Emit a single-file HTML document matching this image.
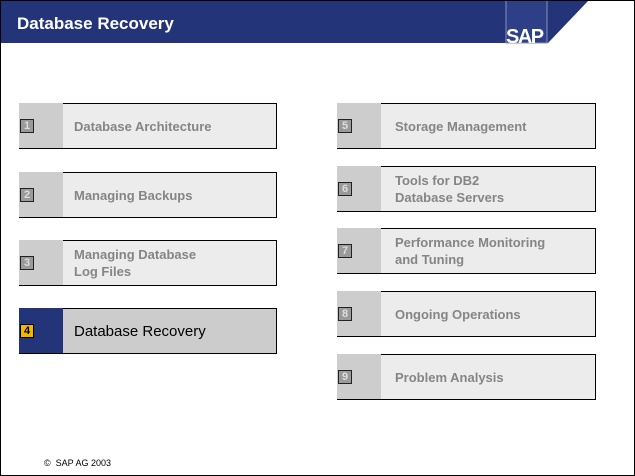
<!DOCTYPE html>
<html><head><style>
*{margin:0;padding:0;box-sizing:border-box}
body{width:635px;height:476px;position:relative;background:#fff;font-family:"Liberation Sans",Arial,sans-serif;overflow:hidden}
.frame{position:absolute;left:0;top:0;width:635px;height:476px;border:1px solid #000}
.box{position:absolute;height:46px;background:#ececec;border-top:1px solid #000;border-right:1px solid #000;border-bottom:1px solid #000}
.tab{position:absolute;left:0;top:-1px;bottom:-1px;width:44px;background:#cdcdcd;border-bottom:1px solid #000}
.num{position:absolute;left:1px;top:50%;margin-top:-7px;width:14px;height:14px;background:#9a9a9a;border:1px solid #222;color:#ddd;font-size:11px;font-weight:bold;text-align:center;line-height:12px}
.t{position:absolute;left:55px;top:0;bottom:0;display:flex;align-items:center;color:#858585;font-size:13px;font-weight:bold;line-height:17px}
</style></head><body>
<svg style="position:absolute;left:0;top:0" width="635" height="50">
<polygon points="0,0 589,0 548,43 0,43" fill="#233479"/>
<rect x="506" y="0" width="41" height="43" fill="#2d3f86" stroke="#8891b8" stroke-width="1"/>
<text x="17" y="29" fill="#fff" font-family="Liberation Sans" font-weight="bold" font-size="17">Database Recovery</text>
<text x="506" y="43" fill="#fff" font-family="Liberation Sans" font-weight="bold" font-size="20" letter-spacing="-1.5">SAP</text>
</svg>
<div class="box" style="left:19px;top:103px;width:258px"><div class="tab"></div><div class="num">1</div><div class="t">Database Architecture</div></div>
<div class="box" style="left:19px;top:172px;width:258px"><div class="tab"></div><div class="num">2</div><div class="t">Managing Backups</div></div>
<div class="box" style="left:19px;top:240px;width:258px"><div class="tab"></div><div class="num">3</div><div class="t">Managing Database<br>Log Files</div></div>
<div class="box" style="left:19px;top:308px;width:258px;background:#cccccc"><div class="tab" style="background:#233479"></div><div class="num" style="background:#f2b800;color:#000;border-color:#000">4</div><div class="t" style="color:#000;font-weight:normal;font-size:15px">Database Recovery</div></div>
<div class="box" style="left:337px;top:103px;width:259px"><div class="tab"></div><div class="num">5</div><div class="t" style="left:58px">Storage Management</div></div>
<div class="box" style="left:337px;top:166px;width:259px"><div class="tab"></div><div class="num">6</div><div class="t" style="left:58px">Tools for DB2<br>Database Servers</div></div>
<div class="box" style="left:337px;top:228px;width:259px"><div class="tab"></div><div class="num">7</div><div class="t" style="left:58px">Performance Monitoring<br>and Tuning</div></div>
<div class="box" style="left:337px;top:291px;width:259px"><div class="tab"></div><div class="num">8</div><div class="t" style="left:58px">Ongoing Operations</div></div>
<div class="box" style="left:337px;top:354px;width:259px"><div class="tab"></div><div class="num">9</div><div class="t" style="left:58px">Problem Analysis</div></div>
<div style="position:absolute;left:44px;top:458px;font-size:9px;color:#000">©&nbsp; SAP AG 2003</div>
<div class="frame"></div>
</body></html>
